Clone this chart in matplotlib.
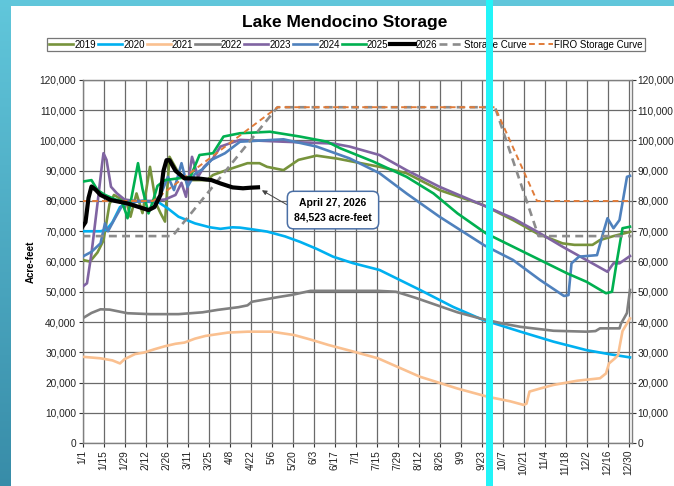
import numpy as np
import matplotlib.pyplot as plt
from matplotlib.patches import Rectangle
from matplotlib.ticker import FuncFormatter

plt.rcParams['font.family'] = ['Liberation Sans', 'DejaVu Sans']

# -----------------------------
# Data (day of year, acre-feet)
# -----------------------------
d2019 = [0, 5, 10, 14, 18, 21, 26, 29, 32, 36, 40, 45, 49, 52, 55, 58, 63, 69, 83, 87, 96, 110, 118, 123,
         134, 144, 156, 170, 198, 216, 238, 267, 287, 303, 320, 328, 340, 345, 354, 365]
v2019 = [60500, 60000, 63000, 67000, 79000, 82000, 80500, 80300, 74800, 82500, 76000, 91300, 79200, 76000,
         73200, 94600, 90200, 86900, 86900, 88600, 90200, 92500, 92500, 91300, 90200, 93600, 95000, 94000,
         91300, 89200, 83600, 78700, 73700, 69300, 66000, 65500, 65500, 67100, 68400, 69800]

d2020 = [0, 12, 16, 20, 25, 30, 40, 50, 57, 64, 75, 85, 92, 100, 105, 115, 123, 135, 145, 156, 167, 180,
         198, 225, 247, 267, 292, 314, 336, 352, 365]
v2020 = [70000, 70000, 70500, 73000, 78000, 79500, 80000, 79800, 77500, 74800, 72600, 71300, 70800, 71300,
         71200, 70500, 69900, 68300, 66500, 64200, 61600, 59500, 57200, 50600, 45000, 40700, 36800, 33500,
         30700, 29300, 28300]

d2021 = [0, 12, 20, 25, 28, 35, 41, 48, 55, 62, 68, 75, 82, 97, 110, 126, 141, 152, 164, 180, 197, 225, 250,
         270, 285, 294, 296, 298, 305, 314, 330, 345, 349, 351, 355, 357, 360, 365]
v2021 = [28500, 28000, 27300, 26300, 27700, 29400, 29900, 31000, 32000, 32800, 33200, 34500, 35400, 36500,
         36800, 36800, 35700, 34200, 32400, 30300, 28000, 21900, 18000, 15300, 13800, 12600, 13000, 17000,
         18000, 19200, 20600, 21400, 23000, 26300, 28000, 29000, 37000, 41200]

d2022 = [0, 6, 12, 18, 30, 45, 64, 80, 90, 104, 110, 113, 120, 130, 140, 152, 175, 197, 209, 222, 236, 250,
         265, 280, 292, 314, 336, 342, 345, 358, 359, 361, 363, 365]
v2022 = [41200, 43000, 44200, 44100, 42900, 42600, 42600, 43200, 44000, 44900, 45500, 46700, 47300, 48200,
         49000, 50300, 50300, 50300, 50000, 48000, 45600, 43200, 41200, 39500, 38400, 37100, 36800, 37000,
         37900, 37900, 39500, 41200, 43000, 50600]

d2023 = [0, 3, 6, 10, 13, 14, 16, 19, 23, 28, 35, 45, 55, 62, 66, 69, 73, 77, 81, 87, 92, 105, 134, 167,
         178, 198, 216, 238, 268, 287, 303, 320, 350, 354, 358, 365]
v2023 = [51700, 52800, 62700, 79200, 92000, 95800, 93600, 84700, 82500, 80500, 80000, 80000, 80500, 82000,
         86000, 81400, 94600, 88000, 91300, 94100, 98000, 100200, 99600, 99000, 98000, 95200, 90200, 84700,
         78400, 74300, 69900, 64900, 56600, 59400, 59400, 61800]

d2024 = [0, 6, 12, 15, 17, 21, 26, 32, 40, 48, 52, 57, 61, 66, 70, 75, 80, 86, 95, 105, 134, 156, 178, 198,
         216, 238, 268, 287, 305, 321, 324, 326, 331, 343, 347, 350, 354, 358, 363, 365]
v2024 = [61600, 63200, 66000, 72600, 70000, 73700, 78100, 79500, 80000, 79500, 82000, 88000, 83600, 92500,
         84700, 89000, 90500, 93600, 95800, 99600, 100400, 98000, 94100, 89200, 82500, 74800, 65300, 60500,
         53900, 48600, 48900, 59400, 61600, 62100, 69300, 74300, 71000, 73700, 88000, 88300]

d2025 = [0, 6, 10, 15, 22, 26, 29, 30, 33, 37, 40, 44, 47, 50, 55, 64, 72, 78, 87, 94, 105, 125, 145, 163,
         172, 194, 216, 234, 250, 269, 287, 305, 323, 336, 349, 353, 356, 360, 365]
v2025 = [86400, 86900, 83600, 82000, 80500, 80000, 76000, 74300, 82000, 92500, 84000, 75900, 80000, 85000,
         86900, 87500, 88000, 95200, 95800, 101300, 102400, 102900, 101300, 99600, 97400, 93000, 88000,
         82500, 75900, 69300, 64900, 60500, 56100, 53300, 49500, 50000, 59400, 71000, 71500]

d2026 = [0, 2, 4, 6, 9, 12, 19, 30, 44, 48, 52, 54, 56, 58, 62, 68, 78, 86, 92, 100, 107, 112, 117]
v2026 = [71500, 73000, 81000, 84800, 83600, 82000, 80300, 79200, 77000, 78000, 82000, 90000, 93500, 93500,
         90000, 87500, 87400, 86900, 85800, 84500, 84200, 84400, 84523]

d_storage = [0, 60, 130, 275, 304, 366]
v_storage = [68400, 68400, 111000, 111000, 68400, 68400]
d_firo = [0, 47, 130, 275, 303, 366]
v_firo = [80000, 80000, 111000, 111000, 80000, 80000]

tick_labels = ['1/1', '1/15', '1/29', '2/12', '2/26', '3/11', '3/25', '4/8', '4/22', '5/6', '5/20', '6/3',
               '6/17', '7/1', '7/15', '7/29', '8/12', '8/26', '9/9', '9/23', '10/7', '10/21', '11/4',
               '11/18', '12/2', '12/16', '12/30']

# -----------------------------
# Figure & background
# -----------------------------
W, H = 674, 486
fig = plt.figure(figsize=(W / 100, H / 100), dpi=100)

bg = fig.add_axes([0, 0, 1, 1], zorder=-5)
grad = np.linspace(0, 1, 256).reshape(256, 1, 1)
top_col = np.array([0.38, 0.78, 0.86])
bot_col = np.array([0.22, 0.55, 0.66])
img = top_col + (bot_col - top_col) * grad
bg.imshow(img, extent=[0, 1, 0, 1], aspect='auto', origin='upper')
bg.add_patch(Rectangle((11 / W, 0), 1, (H - 6) / H, color='white', lw=0))
bg.set_xlim(0, 1)
bg.set_ylim(0, 1)
bg.axis('off')

ax = fig.add_axes([82.5 / W, 43 / H, 549 / W, 363 / H])

series = [
    ('2019', d2019, v2019, '#77933c'),
    ('2020', d2020, v2020, '#00b0f0'),
    ('2021', d2021, v2021, '#fac090'),
    ('2022', d2022, v2022, '#808080'),
    ('2023', d2023, v2023, '#8064a2'),
    ('2024', d2024, v2024, '#4f81bd'),
    ('2025', d2025, v2025, '#00b050'),
]
handles = []
for name, d, v, c in series:
    h, = ax.plot(d, v, color=c, lw=1.9, label=name, zorder=3, solid_joinstyle='round')
    handles.append(h)

h_storage, = ax.plot(d_storage, v_storage, color='#8c8c8c', lw=1.9, ls=(0, (3, 2)),
                     label='Storage Curve', zorder=4)
h_firo, = ax.plot(d_firo, v_firo, color='#e07b39', lw=1.4, ls=(0, (3, 2)),
                  label='FIRO Storage Curve', zorder=4)
h26, = ax.plot(d2026, v2026, color='black', lw=3.0, label='2026', zorder=6, solid_joinstyle='round')
handles.append(h26)
handles += [h_storage, h_firo]

ax.set_xlim(0, 366)
ax.set_ylim(0, 120000)
ax.set_xticks(np.arange(len(tick_labels)) * 14)
ax.set_xticklabels(tick_labels, rotation=90, fontsize=7.3)
ax.set_yticks(np.arange(0, 120001, 10000))
ax.yaxis.set_major_formatter(FuncFormatter(lambda y, p: f'{int(y):,}'))
ax.tick_params(axis='y', labelsize=7.3, labelright=True, right=True, direction='out', length=3,
               pad=1.5, colors='#333333')
ax.tick_params(axis='x', direction='out', length=3, pad=2, colors='#333333')
for lab in ax.get_yticklabels() + ax.get_xticklabels():
    lab.set_color('#222222')
ax.grid(True, color='#6a6a6a', lw=0.9)
ax.set_axisbelow(True)
for s in ax.spines.values():
    s.set_color('#7f7f7f')
    s.set_linewidth(1.0)

ax.set_ylabel('Acre-feet', fontsize=7, fontweight='bold', labelpad=3)

fig.text(345 / W, 1 - 22 / H, 'Lake Mendocino Storage', ha='center', va='center',
         fontsize=12.5, fontweight='bold')

leg = fig.legend(handles=handles, labels=[h.get_label() for h in handles], loc='center',
                 bbox_to_anchor=(346 / W, 1 - 44.5 / H), ncol=10, fontsize=7, frameon=True,
                 fancybox=False, edgecolor='#555555', handlelength=2.5, handletextpad=0.1,
                 columnspacing=0.2, borderpad=0.2, borderaxespad=0)
leg.get_frame().set_linewidth(0.9)

ax.annotate('April 27, 2026\n84,523 acre-feet', xy=(118, 84000), xytext=(167, 77000),
            ha='center', va='center', fontsize=7.5, fontweight='bold', linespacing=1.5,
            bbox=dict(boxstyle='round,pad=0.65,rounding_size=0.6', fc='white', ec='#4a6fa5', lw=1.1),
            arrowprops=dict(arrowstyle='-|>', color='#444444', lw=0.7, mutation_scale=7,
                            shrinkA=0, shrinkB=2, relpos=(0.0, 0.55)),
            zorder=8)

# cyan marker stripe over everything
fig.add_artist(Rectangle((486 / W, 0), 7 / W, 1, transform=fig.transFigure,
                         color='#22f4f8', lw=0, zorder=20))

fig.savefig('out.png', dpi=100)
